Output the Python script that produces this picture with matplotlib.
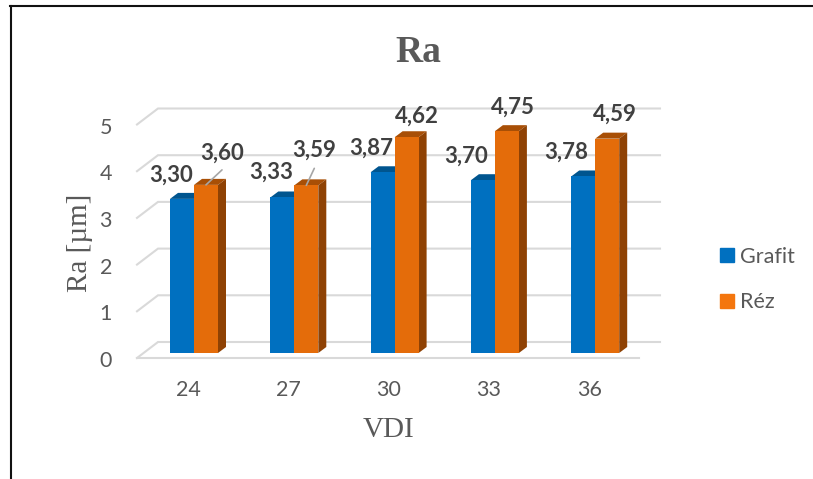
#!/usr/bin/env python3
"""Ra vs VDI, fake-3D clustered bars."""
import matplotlib; matplotlib.use("Agg")
import matplotlib.pyplot as plt
from matplotlib.patches import Polygon
from matplotlib.transforms import ScaledTranslation
from matplotlib.lines import Line2D

vdi = ["24", "27", "30", "33", "36"]
grafit = [3.30, 3.33, 3.87, 3.70, 3.78]
rez = [3.60, 3.59, 4.62, 4.75, 4.59]
yticks = [0, 1, 2, 3, 4, 5]

W, H = 813, 479
PX_X, PX_Y = 100.3, 46.7     # pixels per category / per Ra unit
X0, Y0 = 194, 353            # pixel of first category centre, Ra=0 on the front plane
BW = 24 / PX_X
DX, DY = 8 / PX_X, 6 / PX_Y  # bar depth
BLUE = ("#0070c0", "#00558f", "#005a9a")
ORANGE = ("#e46c0a", "#a84f06", "#8f4204")
GRID = "#d9d9d9"
TXT = "#595959"
LBL = "#404040"
# hand-placed data label offsets, px from bar top centre
grafit_off = [(-11, 24), (-11, 25), (-11, 24), (-17, 24), (-17, 24)]
rez_off = [(16, 32), (8, 35), (10, 21), (6, 24), (8, 24)]
leaders = {0: (16, 15), 1: (8, 17)}

plt.rcParams["font.family"] = ["Lato", "DejaVu Sans"]
fig = plt.figure(figsize=(W / 100, H / 100), dpi=100)

# axes box: pixel 137..660 wide, 70..358 tall
L, R, T, B = 137, 660, 70, 358
ax = fig.add_axes([L / W, 1 - B / H, (R - L) / W, (B - T) / H])
ax.set_xlim((L - X0) / PX_X, (R - X0) / PX_X)
ax.set_ylim((Y0 - B) / PX_Y, (Y0 - T) / PX_Y)
for s in ax.spines.values():
    s.set_visible(False)
ax.patch.set_alpha(0)

x_left, x_back = (137 - X0) / PX_X, (158 - X0) / PX_X
x_right, x_fr = (660 - X0) / PX_X, (639 - X0) / PX_X
back_off, front_off = 11 / PX_Y, -5 / PX_Y   # wall / front edge relative to bar front plane
for v in yticks:
    ax.plot([x_left, x_back, x_right], [v + front_off, v + back_off, v + back_off],
            color=GRID, lw=1.5, zorder=1, solid_joinstyle="miter", clip_on=False)
ax.plot([x_left, x_fr], [front_off, front_off], color=GRID, lw=1.5, zorder=1, clip_on=False)


def bar3d(x, val, cols, z):
    ax.bar(x, val, BW, align="edge", color=cols[0], edgecolor="none", zorder=z + 1)
    ax.add_patch(Polygon([(x, val), (x + BW, val), (x + BW + DX, val + DY), (x + DX, val + DY)],
                         fc=cols[1], ec="none", zorder=z))
    ax.add_patch(Polygon([(x + BW, 0), (x + BW + DX, DY), (x + BW + DX, val + DY), (x + BW, val)],
                         fc=cols[2], ec="none", zorder=z))


for i, (g, r) in enumerate(zip(grafit, rez)):
    bar3d(i - BW, g, BLUE, 2)
    bar3d(i, r, ORANGE, 4)

for i, (g, r) in enumerate(zip(grafit, rez)):
    ax.annotate(f"{g:.2f}".replace(".", ","), (i - BW / 2, g), xytext=grafit_off[i], textcoords="offset pixels",
                ha="center", va="center", fontsize=16, fontweight="bold", color=LBL, zorder=8)
    ax.annotate(f"{r:.2f}".replace(".", ","), (i + BW / 2, r), xytext=rez_off[i], textcoords="offset pixels",
                ha="center", va="center", fontsize=16, fontweight="bold", color=LBL, zorder=8)

# leader lines on the first two orange bars
for i, off in leaders.items():
    ax.annotate("", (i + BW / 2, rez[i]), xytext=off, textcoords="offset pixels",
                arrowprops=dict(arrowstyle="-", color="#a6a6a6", lw=1.2, shrinkA=0, shrinkB=0), zorder=9)

ax.set_xticks(range(len(vdi)), vdi)
ax.set_yticks(yticks)
ax.tick_params(length=0, labelsize=15.5, labelcolor=TXT)
ax.tick_params(axis="x", pad=16)
ax.tick_params(axis="y", pad=18)
for lb in ax.get_yticklabels():
    lb.set_transform(lb.get_transform() + ScaledTranslation(0, -6 / 100, fig.dpi_scale_trans))
for lb in ax.get_xticklabels():
    lb.set_transform(lb.get_transform() + ScaledTranslation(-6 / 100, 0, fig.dpi_scale_trans))

fig.text(418.5 / W, 1 - 52 / H, "Ra", ha="center", va="center", family="Liberation Serif",
         fontweight="bold", fontsize=27, color=TXT)
fig.text(389 / W, 1 - 430 / H, "VDI", ha="center", va="center", family="Liberation Serif",
         fontsize=21, color=TXT)
fig.text(80 / W, 1 - 243 / H, "Ra [µm]", ha="center", va="center", rotation=90,
         family="Liberation Serif", fontsize=21, color=TXT)

# legend
handles = [Line2D([], [], ls="", marker="s", ms=10, color="#0070c0"),
           Line2D([], [], ls="", marker="s", ms=10, color="#f4760e")]
fig.legend(handles, ["Grafit", "Réz"], loc="center left", bbox_to_anchor=(699 / W, 1 - 279.5 / H), frameon=False,
           fontsize=15.5, labelcolor=TXT, handlelength=0.8, handletextpad=0.2, labelspacing=1.2)

# page frame: only top and left visible in the crop
fig.add_artist(Line2D([11 / W, 11 / W], [0, 1 - 6 / H], color="#111111", lw=1.5))
fig.add_artist(Line2D([10 / W, 1], [1 - 6 / H, 1 - 6 / H], color="#111111", lw=1.5))

fig.savefig("out.png", dpi=100)
